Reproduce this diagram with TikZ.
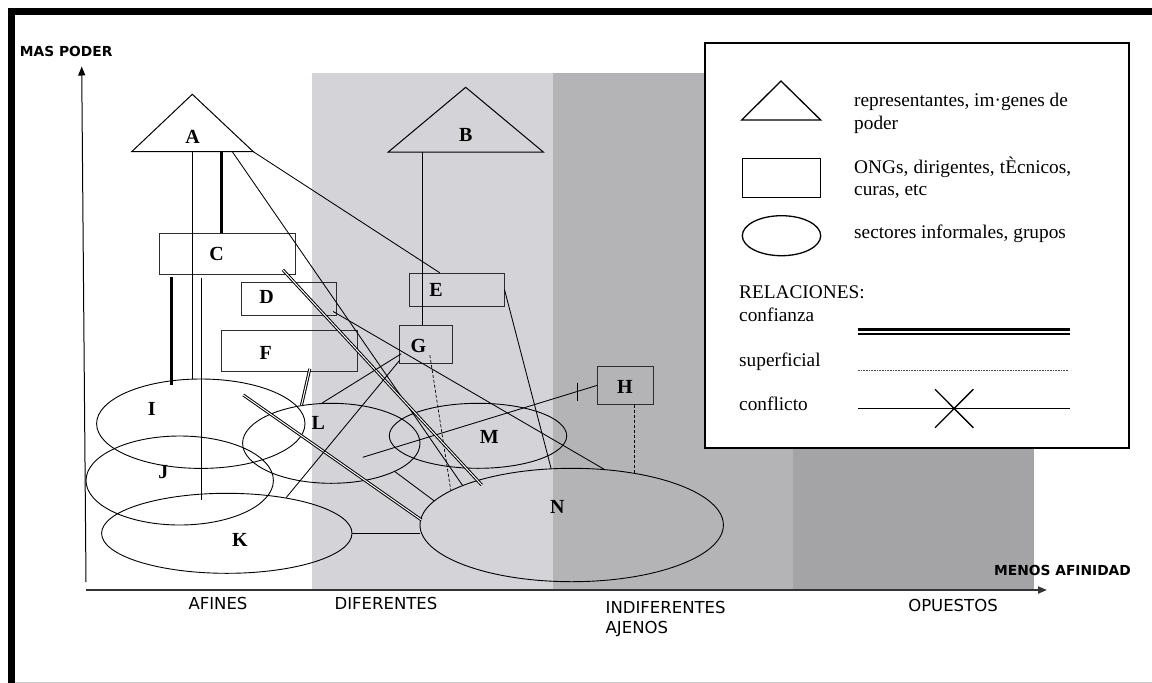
\documentclass[tikz,border=0pt]{standalone}
\usepackage{fontspec}
\setmainfont{Liberation Serif}
\newfontfamily\axisfont{DejaVu Sans}
\usetikzlibrary{shapes.geometric,arrows.meta}
\definecolor{zoneA}{RGB}{211,211,216}
\definecolor{zoneB}{RGB}{180,180,182}
\definecolor{zoneC}{RGB}{164,164,166}
\definecolor{edgegray}{RGB}{45,45,45}
\begin{document}
\begin{tikzpicture}[x=1pt,y=-1pt,
  box/.style={draw=edgegray,line width=1pt,rectangle,inner sep=0pt},
  group/.style={draw,line width=0.9pt,ellipse,inner sep=0pt},
  tri/.style={draw,line width=1pt,line join=miter},
  tag/.style={font=\bfseries\fontsize{20}{20}\selectfont,inner sep=0pt},
  link/.style={line width=0.85pt},
  trust/.style={double=white,double distance=1pt,line width=1pt},
  strong/.style={line width=3.2pt},
  superf/.style={line width=0.7pt,dash pattern=on 3pt off 2pt},
  conflict/.style={line width=0.85pt},
  legtext/.style={font=\fontsize{19.3}{21}\selectfont,inner sep=0pt,anchor=base west},
  axislbl/.style={font=\axisfont\fontsize{16.5}{19.4}\selectfont,inner sep=0pt},
  axistitle/.style={font=\axisfont\bfseries\fontsize{13.8}{16}\selectfont,inner sep=0pt},
  axisarrow/.style={-{Triangle[length=9pt,width=7pt]}},
]
\useasboundingbox (0,0) rectangle (1152,683);
\fill[white] (0,0) rectangle (1152,683);

% affinity zones
\fill[zoneA] (312,72.7) rectangle (553,590);
\fill[zoneB] (553,72.7) rectangle (793,590);
\fill[zoneC] (793,72.7) rectangle (1034,590);

% page frame
\draw[line width=6.5pt] (8,11.7) -- (1152,11.7);
\draw[line width=6.5pt] (11.7,8.5) -- (11.7,683);
\draw[black!20,line width=1pt] (15,682) -- (1152,682);

% axes
\coordinate (yaxis0) at (86,582);
\coordinate (yaxis1) at (81.7,66.5);
\draw[line width=1pt,axisarrow] (yaxis0) -- (yaxis1);
\coordinate (xaxis0) at (86,590);
\coordinate (xaxis1) at (1047,590);
\draw[line width=1.8pt,black!80,axisarrow] (xaxis0) -- (xaxis1);
\node[axistitle] (ytitle) at (66.2,51.7) {MAS PODER};
\node[axistitle] (xtitle) at (1062.5,570.5) {MENOS AFINIDAD};
\node[axislbl] (z1) at (218,603.3) {AFINES};
\node[axislbl] (z2) at (386,603.3) {DIFERENTES};
\node[axislbl,anchor=north west,align=left] (z3) at (605.5,601.2) {INDIFERENTES\\AJENOS};
\node[axislbl] (z4) at (953,605) {OPUESTOS};

% power figures
\coordinate (Aapex) at (192.3,94.3);
\coordinate (Aleft) at (131.7,151.7);
\coordinate (Aright) at (253.3,151.7);
\draw[tri] (Aleft) -- (Aapex) -- (Aright) -- cycle;
\node[tag] (A) at (192.7,136.7) {A};
\coordinate (A1) at (192.3,151.7);
\coordinate (A2) at (221.7,151.7);
\coordinate (A3) at (232.3,151.7);

\coordinate (Bapex) at (465.7,87.3);
\coordinate (Bleft) at (388.3,152);
\coordinate (Bright) at (543.3,152);
\draw[tri] (Bleft) -- (Bapex) -- (Bright) -- cycle;
\node[tag] (B) at (465.7,135) {B};
\coordinate (B1) at (422.3,152);

% organisations
\node[box,minimum width=136.7pt,minimum height=40.7pt] (C) at (227.35,253.65) {};
\node[box,minimum width=95pt,minimum height=33pt] (D) at (289.2,299.2) {};
\node[box,minimum width=94.7pt,minimum height=32.7pt] (E) at (456.65,289.65) {};
\node[box,minimum width=136pt,minimum height=40.3pt] (F) at (289.7,350.85) {};
\node[box,minimum width=53.7pt,minimum height=38.3pt] (G) at (425.85,344.15) {};
\node[box,minimum width=55.6pt,minimum height=37.3pt] (H) at (625.5,385.35) {};
\node[tag] (Ct) at (216.7,254) {C};
\node[tag] (Dt) at (266.7,296.7) {D};
\node[tag] (Et) at (436,290) {E};
\node[tag] (Ft) at (265.7,352.7) {F};
\node[tag] (Gt) at (418.3,346) {G};
\node[tag] (Ht) at (625,387.3) {H};

% informal groups
\node[group,minimum width=208.4pt,minimum height=89.4pt] (I) at (200.8,423.7) {};
\node[group,minimum width=187.4pt,minimum height=89pt] (J) at (179.7,480.5) {};
\node[group,minimum width=250.4pt,minimum height=80pt] (K) at (226.8,533.3) {};
\node[group,minimum width=177.4pt,minimum height=80pt] (L) at (331.3,443.3) {};
\node[group,minimum width=177.4pt,minimum height=65pt] (M) at (478,435.8) {};
\node[group,minimum width=303.4pt,minimum height=113.4pt] (N) at (571.7,525) {};
\node[tag] (It) at (151.7,409.3) {I};
\node[tag] (Jt) at (163.3,471.7) {J};
\node[tag] (Kt) at (240,540) {K};
\node[tag] (Lt) at (318.3,422.7) {L};
\node[tag] (Mt) at (489.3,436.7) {M};
\node[tag] (Nt) at (557.3,506.7) {N};

% relations
\draw[link] (A1) -- (A1 |- I.north);
\draw[strong] (A2) -- (A2 |- C.north);
\draw[link] (A3) -- (N.160);
\draw[link] (Aright) -- ([xshift=31pt]E.north west);
\draw[link] (B1) -- (B1 |- G.north);
\draw[link] (E.east) -- (N.110);
\draw[link] ([xshift=-4pt,yshift=4.7pt]D.south east) -- (N.60);
\draw[superf] ([xshift=4pt,yshift=-11pt]G.center) -- (N.164.5);
\draw[superf] (N.40 |- H.south) -- (N.40);
\draw[conflict] (H.west) -- coordinate[pos=0.086] (hx) ([xshift=31.4pt,yshift=-14pt]L.center);
\draw[conflict] ([yshift=9pt]hx) -- ([yshift=-9pt]hx);

\coordinate (ci) at ([xshift=13pt]C.south west);
\coordinate (ciend) at (ci |- I.north);
\draw[strong] ([yshift=-2.7pt]ci) -- ([yshift=-6pt]ciend);
\coordinate (ck) at ([xshift=42.7pt]C.south west);
\coordinate (ckend) at (ck |- K.north);
\draw[link] ([yshift=-3pt]ck) -- ([yshift=-6.7pt]ckend);

\draw[trust] ([xshift=-13.4pt,yshift=4.7pt]C.south east) -- ([xshift=-90pt,yshift=40pt]N.center);
\draw[trust] ([xshift=42.5pt,yshift=28.7pt]I.center) -- ([xshift=2pt,yshift=5pt]N.west);
\draw[link] (K.east) -- (K.east -| N.west);
\draw[trust] ([xshift=-48.4pt,yshift=2.7pt]F.south east) -- (L.128);
\draw[link] ([xshift=2.7pt,yshift=10pt]G.south west) -- (L.103);
\draw[link] ([xshift=1pt,yshift=3.3pt]G.south west) -- (K.31);
\draw[link] (L.-24.6) -- (N.170);

% legend
\draw[line width=2pt,fill=white] (705,42.7) rectangle (1129,448);
\draw[tri,line width=1.3pt] (741.7,120) -- (781,81) -- (820.7,120) -- cycle;
\node[box,draw=black,line width=1.3pt,minimum width=78.4pt,minimum height=39.4pt] (legbox) at (781.5,178) {};
\node[group,line width=1.3pt,minimum width=78.4pt,minimum height=40pt] (legell) at (781.5,235.7) {};
\node[legtext] (lg1) at (854,106.7) {\makebox[213.7pt][s]{representantes, im·genes de}};
\node[legtext] (lg2) at (854,129) {poder};
\node[legtext] (lg3) at (854,173.3) {\makebox[217pt][s]{ONGs, dirigentes, tÈcnicos,}};
\node[legtext] (lg4) at (854,195) {curas, etc};
\node[legtext] (lg5) at (854,238.3) {sectores informales, grupos};
\node[legtext] (lg6) at (739,298.3) {RELACIONES:};
\node[legtext] (lg7) at (739,321) {confianza};
\node[legtext] (lg8) at (739,366) {superficial};
\node[legtext] (lg9) at (739,410) {conflicto};
\draw[double=white,double distance=2pt,line width=2.3pt] (857.7,331.5) -- (1070,331.5);
\draw[line width=0.7pt,dash pattern=on 0.7pt off 0.9pt,black!70] (857.7,370) -- (1067.7,370);
\draw[line width=1.3pt] (858,408.3) -- (1070,408.3);
\draw[line width=1.3pt] (935,389.3) -- (973.3,427.7) (973.3,389.3) -- (935,427.7);
\end{tikzpicture}
\end{document}
